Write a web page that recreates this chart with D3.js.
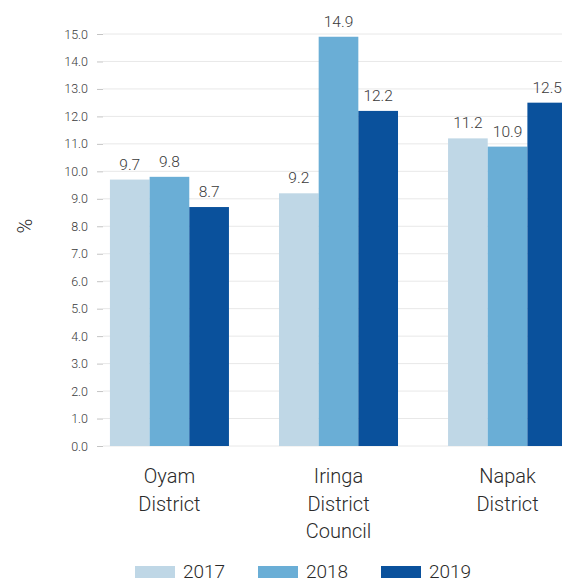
<!DOCTYPE html>
<html><head><meta charset="utf-8">
<script src="https://cdn.jsdelivr.net/npm/d3@7"></script>
<style>body{margin:0;background:#fff}svg{display:block;font-family:Roboto,"Open Sans",sans-serif;font-weight:300}</style>
</head><body>
<svg id="c" width="562" height="582"></svg>
<script>
const categories = [["Oyam","District"],["Iringa","District","Council"],["Napak","District"]];
const years = ["2017","2018","2019"];
const v2017 = [9.7, 9.2, 11.2];
const v2018 = [9.8, 14.9, 10.9];
const v2019 = [8.7, 12.2, 12.5];
const yTicks = [0,1,2,3,4,5,6,7,8,9,10,11,12,13,14,15];
const colors = ["#bfd7e6","#6aaed6","#0a519c"];

(function(){
const series = [v2017, v2018, v2019];
const svg = d3.select("#c");
const plotLeft = 103, plotTop = 34, plotBottom = 446;
const y = d3.scaleLinear().domain([0,15]).range([plotBottom, plotTop]);
const x0 = d3.scaleBand().domain(d3.range(categories.length)).range([103, 574]).paddingInner(0.296).paddingOuter(0.041);
const x1 = d3.scaleBand().domain(years).range([0, x0.bandwidth()]);

svg.append("g").selectAll("line").data(yTicks).join("line")
  .attr("x1", plotLeft).attr("x2", 562)
  .attr("y1", d => y(d)).attr("y2", d => y(d))
  .attr("stroke", "#e8e8e8").attr("stroke-width", 1);

const ya = svg.append("g").attr("transform", `translate(${plotLeft},0)`)
  .call(d3.axisLeft(y).tickValues(yTicks).tickFormat(d3.format(".1f")).tickSize(6).tickPadding(9));
ya.select(".domain").remove();
ya.selectAll(".tick line").attr("stroke", "#c4c4c4");
ya.selectAll(".tick text").attr("fill", "#3a3a3a").style("font-size", "12.5px").style("font-family", "Roboto").style("font-weight", "300");

const g = svg.append("g");
categories.forEach((c, i) => {
  years.forEach((yr, j) => {
    const v = series[j][i];
    g.append("rect")
      .attr("x", x0(i) + x1(yr)).attr("width", x1.bandwidth())
      .attr("y", y(v)).attr("height", y(0) - y(v))
      .attr("fill", colors[j]);
    g.append("text")
      .attr("x", x0(i) + x1(yr) + x1.bandwidth()/2)
      .attr("y", y(v) - 10)
      .attr("text-anchor", "middle").attr("fill", "#3a3a3a")
      .style("font-size", "15.5px").text(v.toFixed(1));
  });
  const t = svg.append("text").attr("text-anchor", "middle").attr("fill", "#2a2a2a")
    .style("font-size", "20px");
  c.forEach((line, k) => {
    t.append("tspan").attr("x", x0(i) + x0.bandwidth()/2).attr("y", 483 + k*27.5).text(line);
  });
});

svg.append("text").attr("transform", "translate(32,226) rotate(-90)")
  .attr("text-anchor", "middle").attr("fill", "#2a2a2a").style("font-size", "20px").text("%");

const lx = [135, 258, 381];
years.forEach((yr, j) => {
  svg.append("rect").attr("x", lx[j]).attr("y", 566).attr("width", 40).attr("height", 12).attr("fill", colors[j]);
  svg.append("text").attr("x", lx[j] + 48).attr("y", 578).attr("fill", "#2a2a2a")
    .style("font-size", "19px").text(yr);
});
})();
</script>
</body></html>
